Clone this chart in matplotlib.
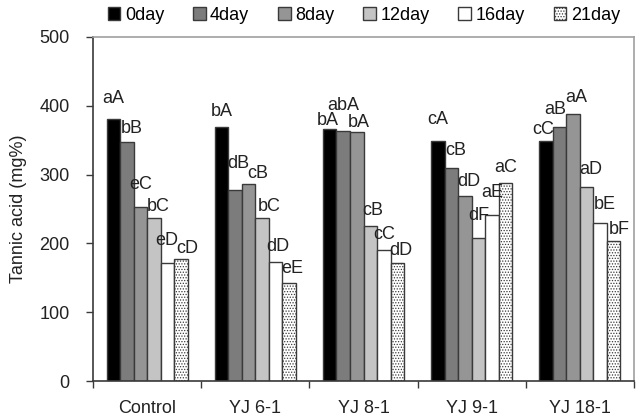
# Tannic acid content by strain and storage day - grouped bar chart
import numpy as np
import matplotlib.pyplot as plt

plt.rcParams['font.family'] = ['Liberation Sans', 'DejaVu Sans']
plt.rcParams['hatch.linewidth'] = 0.6

# data
groups = ['Control', 'YJ 6-1', 'YJ 8-1', 'YJ 9-1', 'YJ 18-1']
days = ['0day', '4day', '8day', '12day', '16day', '21day']
day0 = [381, 369, 367, 349, 349]
day4 = [347, 277, 364, 309, 369]
day8 = [253, 287, 362, 269, 388]
day12 = [237, 237, 226, 208, 282]
day16 = [171, 173, 190, 241, 230]
day21 = [178, 143, 171, 288, 204]
values = [day0, day4, day8, day12, day16, day21]

# significance letters (one row per day)
letters = [
    ['aA', 'bA', 'bA', 'cA', 'cC'],
    ['bB', 'dB', 'abA', 'cB', 'aB'],
    ['eC', 'cB', 'bA', 'dD', 'aA'],
    ['bC', 'bC', 'cB', 'dF', 'aD'],
    ['eD', 'dD', 'cC', 'aE', 'bE'],
    ['cD', 'eE', 'dD', 'aC', 'bF'],
]
# label offsets from bar top in pixels (dx, dy)
label_dx = [
    [0, 0, -2, 0, -3],
    [5, 3, 0, 4, -4],
    [0, 9, 2, 4, 3],
    [4, 7, 2, 0, 4],
    [-1, 2, 0, 0, 5],
    [6, 3, 3, 0, 6],
]
label_dy = [
    [16, 11, 4, 17, 7],
    [9, 22, 21, 13, 13],
    [18, 6, 5, 10, 12],
    [7, 7, 11, 18, 13],
    [18, 11, 11, 18, 14],
    [6, 10, 8, 11, 7],
]

fills = ['black', '#7c7c7c', '#959595', '#c4c4c4', 'white', 'white']
hatches = [None, None, None, None, None, '......']
edge = '#3a3a3a'
fs = 13

fig = plt.figure(figsize=(6.44, 4.18), dpi=100)
ax = fig.add_axes([0.1444, 0.0885, 0.8401, 0.823])

x = np.arange(len(groups))
w = 0.125
for i in range(len(days)):
    pos = x + (i - 2.5) * w
    bars = ax.bar(pos, values[i], w, color=fills[i], edgecolor=edge,
                  linewidth=1.0, hatch=hatches[i], label=days[i])
    for j, b in enumerate(bars):
        ax.annotate(letters[i][j], (b.get_x() + w / 2, b.get_height()),
                    xytext=(label_dx[i][j], label_dy[i][j]),
                    textcoords='offset pixels', ha='center', va='baseline',
                    fontsize=fs, color='#222222')

ax.set_xlim(-0.5, len(groups) - 0.5)
ax.set_ylim(0, 500)
ax.set_yticks([0, 100, 200, 300, 400, 500])
ax.set_xticks(np.arange(-0.5, len(groups)), labels=[''] * (len(groups) + 1))
ax.set_xticks(x, labels=groups, minor=True)
ax.tick_params(axis='x', which='minor', length=0, pad=14, labelsize=fs,
               labelcolor='#222222')
ax.tick_params(axis='x', which='major', length=5, width=1, color=edge)
ax.tick_params(axis='y', length=5, width=1, color=edge, labelsize=fs,
               labelcolor='#222222', pad=12)
for s in ['left', 'bottom']:
    ax.spines[s].set_color(edge)
    ax.spines[s].set_linewidth(1.2)
for s in ['top', 'right']:
    ax.spines[s].set_color('#a0a0a0')
    ax.spines[s].set_linewidth(1.2)

ax.set_ylabel('Tannic acid (mg%)', fontsize=fs, color='#222222', labelpad=9)

fig.legend(loc='center', bbox_to_anchor=(0.565, 0.964), ncol=6, frameon=False,
           fontsize=fs, handlelength=0.7, handleheight=0.7,
           handletextpad=0.25, columnspacing=1.6)

plt.savefig('out.png', dpi=100)
